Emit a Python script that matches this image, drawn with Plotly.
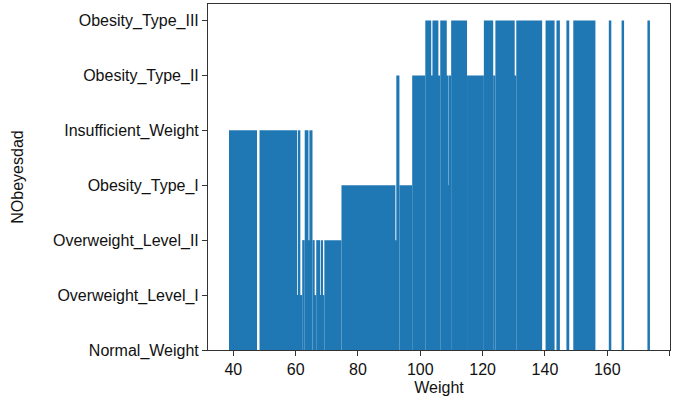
import plotly.graph_objects as go

# category order (as on the y axis, bottom to top)
categories = ["Normal_Weight", "Overweight_Level_I", "Overweight_Level_II",
              "Obesity_Type_I", "Insufficient_Weight", "Obesity_Type_II",
              "Obesity_Type_III"]

# weight spans (start, end) and the highest class present in each span
seg_start = [38.6, 48.4, 60.5, 61.0, 61.5, 62.1, 62.9, 64.1, 64.4, 65.4,
             66.1, 66.6, 67.9, 68.3, 68.7, 69.2, 74.7, 92.0, 92.3, 93.3,
             97.4, 101.6, 103.5, 103.9, 105.8, 106.4, 108.5, 108.7, 109.0, 109.9,
             115.0, 120.4, 123.4, 124.1, 130.3, 130.8, 140.2, 143.7, 146.9, 149.1,
             160.5, 164.6, 172.9]
seg_end = [47.6, 60.5, 61.0, 61.5, 62.1, 62.9, 64.1, 64.4, 65.4, 66.1,
           66.6, 67.9, 68.3, 68.7, 69.2, 74.7, 92.0, 92.3, 93.3, 97.4,
           101.6, 103.5, 103.9, 105.8, 106.4, 108.5, 108.7, 109.0, 109.9, 115.0,
           120.4, 123.4, 124.1, 130.3, 130.8, 139.1, 143.1, 144.8, 147.8, 156.2,
           161.3, 165.4, 173.7]
seg_class = ["Insufficient_Weight", "Insufficient_Weight", "Overweight_Level_I",
             "Insufficient_Weight", "Overweight_Level_I", "Overweight_Level_II",
             "Insufficient_Weight", "Overweight_Level_II", "Insufficient_Weight",
             "Overweight_Level_II", "Overweight_Level_I", "Overweight_Level_II",
             "Overweight_Level_I", "Overweight_Level_II", "Overweight_Level_I",
             "Overweight_Level_II", "Obesity_Type_I", "Overweight_Level_II",
             "Obesity_Type_II", "Obesity_Type_I", "Obesity_Type_II",
             "Obesity_Type_III", "Obesity_Type_II", "Obesity_Type_III",
             "Obesity_Type_II", "Obesity_Type_III", "Obesity_Type_II",
             "Obesity_Type_I", "Obesity_Type_II", "Obesity_Type_III",
             "Obesity_Type_II", "Obesity_Type_III", "Obesity_Type_II",
             "Obesity_Type_III", "Obesity_Type_II", "Obesity_Type_III",
             "Obesity_Type_III", "Obesity_Type_III", "Obesity_Type_III",
             "Obesity_Type_III", "Obesity_Type_III", "Obesity_Type_III",
             "Obesity_Type_III"]

x_ticks = [40, 60, 80, 100, 120, 140, 160, 180]

centers = [(a + b) / 2 for a, b in zip(seg_start, seg_end)]
widths = [b - a for a, b in zip(seg_start, seg_end)]

fig = go.Figure()
fig.add_trace(go.Bar(
    x=centers, y=seg_class, width=widths, orientation="v",
    marker=dict(color="#1f77b4", line=dict(width=0)),
    hoverinfo="x+y",
))

font = dict(family="Liberation Sans, Arial, sans-serif", size=16, color="#111")
axis_common = dict(showline=True, linecolor="#333", linewidth=1, mirror=True,
                   ticks="outside", ticklen=5, tickwidth=1, tickcolor="#333",
                   showgrid=False, zeroline=False, tickfont=font)

fig.update_layout(
    width=681, height=401,
    margin=dict(l=208, r=11, t=4, b=51),
    paper_bgcolor="white", plot_bgcolor="white",
    showlegend=False, font=font,
    xaxis=dict(range=[31.86, 180.14], tickvals=x_ticks,
               title=dict(text="Weight", font=font, standoff=4),
               **axis_common),
    yaxis=dict(type="category", categoryorder="array", categoryarray=categories,
               range=[0, 6.3],
               title=dict(text="NObeyesdad", font=font, standoff=25),
               **axis_common),
)

fig.write_html("out.html")
